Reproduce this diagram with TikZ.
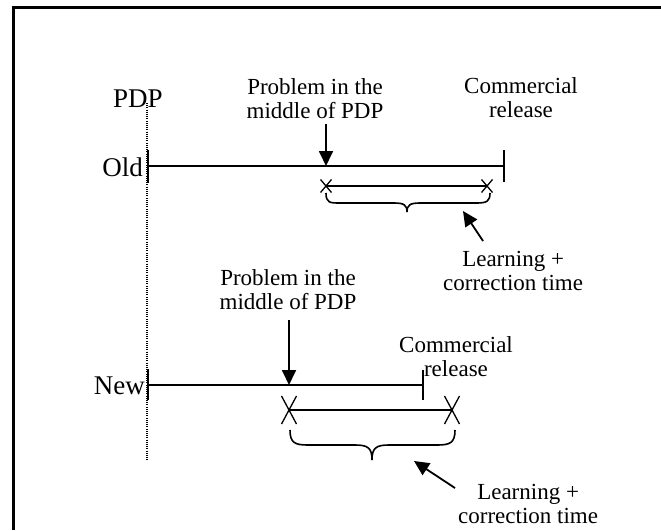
\documentclass[tikz,border=0pt]{standalone}
\usepackage{fontspec}
\setmainfont{Liberation Serif}
\usetikzlibrary{arrows.meta}
\begin{document}
\begin{tikzpicture}[x=1pt,y=-1pt,
  lbl/.style={font=\fontsize{23}{24}\selectfont, align=center, inner sep=0pt},
  big/.style={font=\fontsize{27}{30}\selectfont, inner sep=0pt},
  tl/.style={line width=2pt},
  pointer/.style={line width=1.8pt, -{Triangle[length=15pt,width=14pt]}},
  cross/.style={line width=1.3pt},
  brace/.style={line width=1.6pt},
  pdpline/.style={line width=1.1pt, dash pattern=on 1pt off 1.2pt}
  ]
\useasboundingbox (0,0) rectangle (661,530);
% frame
\draw[line width=3pt] (13,530) -- (13,7) -- (661,7);

% PDP start marker
\node[big, anchor=base] (pdp) at (138,107) {PDP};
\coordinate (d0) at (147,103);
\coordinate (d1) at (147,460);
\draw[pdpline] (d0) -- (d1);

% ---------- old process ----------
\node[big, anchor=base east] (old) at (143,176) {Old};
\coordinate (o0) at (148,166);
\coordinate (o1) at (504,166);
\draw[tl] (o0) -- (o1);
\draw[tl] ([yshift=16pt]o0) -- ([yshift=-17pt]o0);
\draw[tl] ([yshift=16pt]o1) -- ([yshift=-16pt]o1);

\node[lbl, anchor=south] (prob1) at (315,119) {Problem in the\\middle of PDP};
\coordinate (a1) at (326,124);
\coordinate (hit1) at (326,166);
\draw[pointer] (a1) -- (hit1);

\node[lbl, anchor=south] (rel1) at (521,118) {Commercial\\release};

\coordinate (x1a) at (326,186);
\coordinate (x1b) at (487,186);
\draw[cross] (x1a) -- (x1b);
\foreach \c in {x1a,x1b}
  \draw[cross] ([shift={(-5.5pt,6.5pt)}]\c) -- ([shift={(5.5pt,-6.5pt)}]\c)
               ([shift={(-5.5pt,-6.5pt)}]\c) -- ([shift={(5.5pt,6.5pt)}]\c);

\coordinate (b1) at (407,212);
\draw[brace] (326,193) .. controls (326,203) and (330,203) .. (340,203)
  -- (394,203) .. controls (404,203) and (407,205) .. (b1)
  .. controls (407,205) and (410,203) .. (420,203)
  -- (477,203) .. controls (487,203) and (490,201) .. (490,193);

\node[lbl, anchor=south west] (learn1) at (443,291) {Learning +\\correction time};
\coordinate (t1) at (483,241);
\coordinate (h1) at (463,211);
\draw[pointer] (t1) -- (h1);

% ---------- new process ----------
\node[big, anchor=base east] (new) at (145,394) {New};
\coordinate (n0) at (148,385);
\coordinate (n1) at (423,385);
\draw[tl] (n0) -- (n1);
\draw[tl] ([yshift=16pt]n0) -- ([yshift=-15pt]n0);
\draw[tl] ([yshift=15pt]n1) -- ([yshift=-15pt]n1);

\node[lbl, anchor=south] (prob2) at (288,310) {Problem in the\\middle of PDP};
\coordinate (a2) at (289,320);
\coordinate (hit2) at (289,385);
\draw[pointer] (a2) -- (hit2);

\node[lbl, anchor=south] (rel2) at (456,377) {Commercial\\release};

\coordinate (x2a) at (289,410);
\coordinate (x2b) at (452,410);
\draw[cross] (x2a) -- (x2b);
\foreach \c in {x2a,x2b}
  \draw[cross] ([shift={(-7.5pt,14pt)}]\c) -- ([shift={(7.5pt,-14pt)}]\c)
               ([shift={(-7.5pt,-14pt)}]\c) -- ([shift={(7.5pt,14pt)}]\c);

\coordinate (b2) at (372,460);
\draw[brace] (290,430) .. controls (290,443) and (295,445) .. (308,445)
  -- (355,445) .. controls (368,445) and (372,448) .. (b2)
  .. controls (372,448) and (376,445) .. (389,445)
  -- (437,445) .. controls (450,445) and (455,443) .. (455,430);

\node[lbl, anchor=south west] (learn2) at (458,524) {Learning +\\correction time};
\coordinate (t2) at (455,488);
\coordinate (h2) at (414,461);
\draw[pointer] (t2) -- (h2);
\end{tikzpicture}
\end{document}
